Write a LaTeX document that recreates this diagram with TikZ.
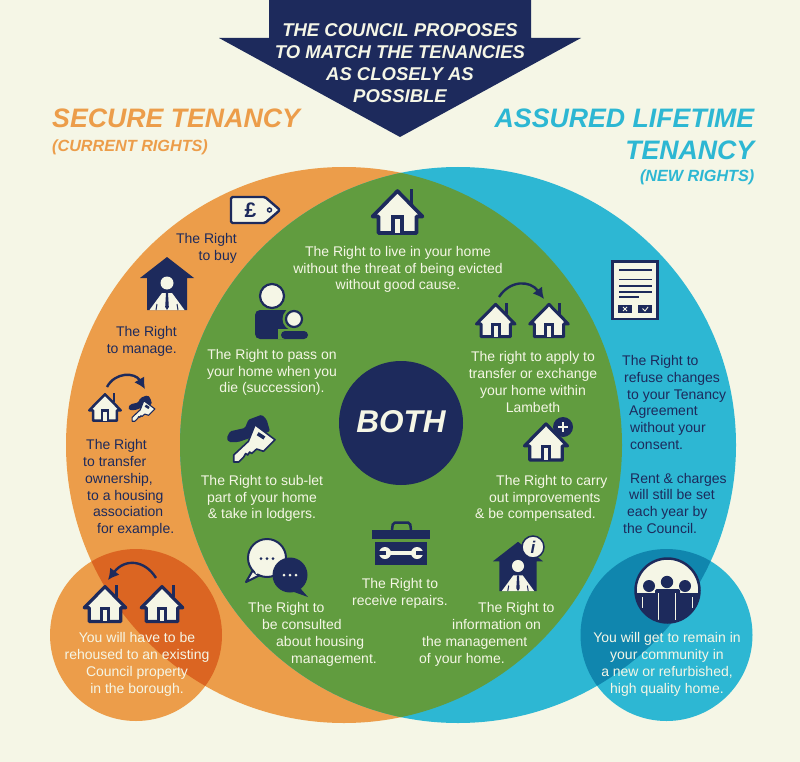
\documentclass[tikz,border=0pt]{standalone}
\usepackage{fontspec}
\setmainfont{Liberation Sans}
\usepackage{tikz}
\usetikzlibrary{arrows.meta}
\definecolor{paper}{HTML}{F5F6E6}
\definecolor{navy}{HTML}{1D2A5C}
\definecolor{secure}{HTML}{EC9D4A}
\definecolor{assured}{HTML}{2DB7D3}
\definecolor{both}{HTML}{619C3F}
\definecolor{securedark}{HTML}{DB6522}
\definecolor{assureddark}{HTML}{1086AE}
\tikzstyle{rights} = [inner sep=0pt, yshift=-1.5pt, font=\fontsize{14}{16.8}\selectfont]
\tikzstyle{dark} = [rights, text=navy]
\tikzstyle{pale} = [rights, text=paper]
\tikzstyle{heading} = [inner sep=0pt, font=\fontsize{26.7}{32}\selectfont\bfseries\itshape]
\tikzstyle{subheading} = [inner sep=0pt, font=\fontsize{16.2}{20}\selectfont\bfseries\itshape]
\tikzstyle{swap} = [->, draw=navy, line width=2.4pt]
\tikzset{
  house/.pic={
    \path [fill=paper, draw=navy, line join=round]
      (0,-21) -- (-25,4.5) -- (-19,4.5) -- (-19,21) -- (19,21) -- (19,4.5) -- (25,4.5) -- cycle;
    \draw [navy] (14,-8) -- (14,-23);
    \path [fill=paper, draw=navy] (-4.5,21) -- (-4.5,5) -- (4.5,5) -- (4.5,21);
  },
  manager/.pic={
    \fill [navy] (0,-26) -- (-27,-5) -- (-20,-5) -- (-20,27) -- (20,27) -- (20,-5) -- (27,-5) -- cycle;
    \fill [paper] (0,0) circle [radius=6.5];
    \fill [paper] (-17.5,27) -- (-5,10) -- (5,10) -- (17.5,27) -- cycle;
    \fill [navy] (-1,10) -- (1,10) -- (1.8,24) -- (0,27) -- (-1.8,24) -- cycle;
    \draw [navy, line width=1pt] (-10,21) -- (-11,27) (10,21) -- (11,27);
  },
  doorkey/.pic={
    \fill [navy, rounded corners=1.5] (-34,0) -- (-30.7,-6.7) -- (-15.7,-10) -- (-12.3,-18.3) -- (1,-23.3)
      -- (6,-18.3) -- (9.3,-6.7) -- (-10.7,0) -- (-22.3,4) -- (-32,4) -- cycle;
    \path [fill=paper, draw=navy, line join=round]
      (-5.7,-13.3) -- (14.3,1.7) -- (2.7,13.3) -- (-4,11) -- (-9,15.5) -- (-11,14) -- (-13,17) -- (-15,15.5)
      -- (-17,19) -- (-22,24) -- (-27,24) -- (-27,17) -- (-12.3,3.3) -- cycle;
    \draw [navy, line width=1.5\pgflinewidth] (-3,-4.3) -- (3.7,0);
  },
}

\begin{document}
\begin{tikzpicture}[x=1pt, y=-1pt, >={Latex[length=11pt,width=12pt]}]
    \useasboundingbox [fill=paper] (0,0) rectangle (800,762);

    % Drawing the circles
    \fill [secure] (344,445) circle [radius=278];
    \fill [assured] (458,445) circle [radius=278];
    \begin{scope}
        \clip (344,445) circle [radius=278];
        \fill [both] (458,445) circle [radius=278];
    \end{scope}
    \fill [secure] (136,635) circle [radius=86];
    \fill [assured] (666.5,635) circle [radius=86];
    \begin{scope}
        \clip (344,445) circle [radius=278];
        \fill [securedark] (136,635) circle [radius=86];
    \end{scope}
    \begin{scope}
        \clip (458,445) circle [radius=278];
        \fill [assureddark] (666.5,635) circle [radius=86];
    \end{scope}
    \fill [navy] (401,423) circle [radius=62];

    % Banner
    \fill [navy] (269,0) -- (531,0) -- (531,38) -- (581,38) -- (400,137) -- (219,38) -- (269,38) -- cycle;
    \node [align=center, inner sep=0pt, text=paper, font=\fontsize{18.5}{21.8}\selectfont\bfseries\itshape]
        (banner) at (400,63) {THE COUNCIL PROPOSES\\TO MATCH THE TENANCIES\\AS CLOSELY AS\\POSSIBLE};

    % Headings
    \node [heading, text=secure, anchor=base west] (secure) at (52,127.5) {SECURE TENANCY};
    \node [subheading, text=secure, anchor=base west] (current) at (52,152) {(CURRENT RIGHTS)};
    \node [heading, text=assured, anchor=base east] (assured1) at (754.5,127.5) {ASSURED LIFETIME};
    \node [heading, text=assured, anchor=base east] (assured2) at (754.5,159.5) {TENANCY};
    \node [subheading, text=assured, anchor=base east] (new) at (754.5,182) {(NEW RIGHTS)};
    \node [text=paper, inner sep=0pt, font=\fontsize{31.5}{36}\selectfont\bfseries\itshape] (both) at (401,422) {BOTH};

    % Texts on the left
    \node [dark, align=right, anchor=east] (buy) at (237,246.5) {The Right\\to buy};
    \node [dark, align=right, anchor=east] (manage) at (177,339.5) {The Right\\to manage.};
    \node [dark, align=left, anchor=west] (ownership) at (83,486.5)
        {\hspace*{3pt}The Right\\to transfer\\\hspace*{2pt}ownership,\\\hspace*{4pt}to a housing\\\hspace*{10pt}association\\\hspace*{14pt}for example.};
    \node [pale, align=center] (rehoused) at (137,663)
        {You will have to be\\rehoused to an existing\\Council property\\in the borough.};

    % Texts in the middle
    \node [pale, align=center] (live) at (398,268)
        {The Right to live in your home\\without the threat of being evicted\\without good cause.};
    \node [pale, align=center] (pass) at (272,371)
        {The Right to pass on\\your home when you\\die (succession).};
    \node [pale, align=center] (apply) at (533,380.5)
        {The right to apply to\\transfer or exchange\\your home within\\Lambeth};
    \node [pale, align=center] (sublet) at (262,497)
        {The Right to sub-let\\part of your home\\\& take in lodgers.};
    \node [pale, align=left, anchor=west] (carry) at (475,497)
        {\hspace*{21pt}The Right to carry\\\hspace*{14pt}out improvements\\\& be compensated.};
    \node [pale, align=center] (repairs) at (400,591.5) {The Right to\\receive repairs.};
    \node [pale, align=left, anchor=west] (consulted) at (248,633)
        {The Right to\\\hspace*{14pt}be consulted\\\hspace*{28pt}about housing\\\hspace*{43pt}management.};
    \node [pale, align=left, anchor=west] (information) at (419,633)
        {\hspace*{59pt}The Right to\\\hspace*{33pt}information on\\\hspace*{3pt}the management\\of your home.};

    % Texts on the right
    \node [dark, align=left, anchor=west] (refuse) at (622,443)
        {The Right to\\\hspace*{2pt}refuse changes\\\hspace*{5pt}to your Tenancy\\\hspace*{7pt}Agreement\\\hspace*{8pt}without your\\\hspace*{8pt}consent.\\[16.8pt]\hspace*{8pt}Rent \& charges\\\hspace*{7pt}will still be set\\\hspace*{5pt}each year by\\\hspace*{1pt}the Council.};
    \node [pale, align=center] (remain) at (667,663)
        {You will get to remain in\\your community in\\a new or refurbished,\\high quality home.};

    % Price tag
    \path [fill=paper, draw=navy, line width=2.4pt, line join=round, rounded corners=1.5]
        (231,197) -- (265,197) -- (280,210) -- (265,223) -- (231,223) -- cycle;
    \node [inner sep=0pt, text=navy, font=\fontsize{21}{21}\selectfont\bfseries] (pound) at (250.5,210) {£};
    \draw [navy, line width=1.4pt] (269.5,210) circle [radius=2];

    % Houses
    \pic [line width=3.6pt] (livehouse) at (397.5,212) {house};
    \pic [scale=.77, line width=3pt] (fromhouse) at (495.7,320.5) {house};
    \pic [scale=.77, line width=3pt] (tohouse) at (549,320.5) {house};
    \pic [scale=.83, line width=3.2pt] (oldhouse) at (162,604) {house};
    \pic [scale=.83, line width=3.2pt] (newhouse) at (105,604) {house};
    \pic [scale=.63, line width=2.5pt] (ownedhouse) at (105,407.5) {house};
    \pic [scale=.86, line width=3.2pt] (carryhouse) at (546,442) {house};
    \fill [navy] (563,427) circle [radius=10];
    \draw [paper, line width=2pt] (558,427) -- (568,427) (563,422) -- (563,432);

    % Arrows between the houses
    \coordinate (a1) at (499,297);
    \coordinate (b1) at (544,299);
    \draw [swap] (a1) .. controls (510,280) and (530,280) .. (b1);
    \coordinate (a2) at (156,578);
    \coordinate (b2) at (108,580);
    \draw [swap] (a2) .. controls (145,560) and (125,558) .. (b2);
    \coordinate (a3) at (107,387);
    \coordinate (b3) at (145,389);
    \draw [swap] (a3) .. controls (115,372) and (135,372) .. (b3);

    % Managers
    \pic (managehouse) at (167,283) {manager};
    \pic [scale=.93] (infohouse) at (518,566) {manager};
    \fill [paper, draw=navy, line width=1.5pt] (533,547) circle [radius=11];
    \node [inner sep=0pt, text=navy, font=\fontsize{17}{17}\selectfont\bfseries\itshape] (info) at (533,547) {i};

    % Keys
    \pic [line width=1.6pt] (letkey) at (260.7,438) {doorkey};
    \pic [scale=.55, line width=1.1pt] (ownedkey) at (147,408) {doorkey};

    % Parent and child
    \fill [paper, draw=navy, line width=2.2pt] (272,296) circle [radius=12];
    \fill [navy, rounded corners=5] (255,339) -- (255,310) -- (290,310) -- (290,339) -- cycle;
    \fill [both] (294,319) circle [radius=11.5];
    \fill [both] (278,329) rectangle (310,339);
    \fill [paper, draw=navy, line width=2.2pt] (294,319) circle [radius=8];
    \fill [navy, rounded corners=4] (281,339) -- (281,331) -- (308,331) -- (308,339) -- cycle;

    % Speech bubbles
    \path [fill=paper, draw=navy, line width=2pt, line join=round]
        (253,570) -- (246,582) -- (260,575) -- cycle;
    \fill [paper, draw=navy, line width=2pt] (267,558) circle [radius=19];
    \fill [paper] (254,568) -- (256,574) -- (262,572) -- cycle;
    \fill [navy] (290,575) circle [radius=17.5];
    \fill [navy] (300,588) -- (308,597) -- (294,592) -- cycle;
    \foreach \dotx in {-6,0,6} {
        \fill [navy] (267+\dotx,558.5) circle [radius=1.5];
        \fill [paper] (290+\dotx,575) circle [radius=1.5];
    }

    % Toolbox
    \draw [navy, line width=2.5pt, rounded corners=2] (392,530) -- (393,522.5) -- (410,522.5) -- (411,530);
    \fill [navy] (372,530) rectangle (430,539);
    \fill [navy] (375,542) rectangle (427,565);
    \draw [paper, line width=3.6pt] (388,553) -- (414,553);
    \fill [paper] (385,553) circle [radius=6];
    \fill [paper] (417,553) circle [radius=6];
    \fill [navy] (378,551) rectangle (386,555);
    \fill [navy] (416,551) rectangle (424,555);

    % Agreement
    \fill [paper, draw=navy, line width=2.2pt] (612.5,261.5) rectangle (657.5,319);
    \draw [navy, line width=2.2pt] (619,270) -- (652,270);
    \draw [navy, line width=1.4pt] (619,279.5) -- (652,279.5) (619,286) -- (652,286) (619,292) -- (652,292) (619,297) -- (639,297);
    \fill [navy] (618,305) rectangle (632,313);
    \fill [navy] (638,305) rectangle (652,313);
    \draw [paper, line width=.9pt] (623,307) -- (627,311) (623,311) -- (627,307);
    \draw [paper, line width=.9pt] (642.5,308.5) -- (645,311) -- (648,307);

    % Community
    \fill [paper] (667.5,590.5) circle [radius=32];
    \begin{scope}
        \clip (667.5,590.5) circle [radius=32];
        \fill [navy] (649,586) circle [radius=6];
        \fill [navy] (685,586) circle [radius=6];
        \fill [navy] (667,582) circle [radius=6.2];
        \fill [navy, rounded corners=1.5] (634,593) rectangle (700,630);
        \fill [navy, rounded corners=1.5] (655,589) rectangle (680,630);
        \draw [paper, line width=1pt] (642,597) -- (642,608) (658,593) -- (658,625) (675,593) -- (675,625) (692,597) -- (692,608);
    \end{scope}
    \draw [navy, line width=2.5pt] (667.5,590.5) circle [radius=32];
\end{tikzpicture}
\end{document}
